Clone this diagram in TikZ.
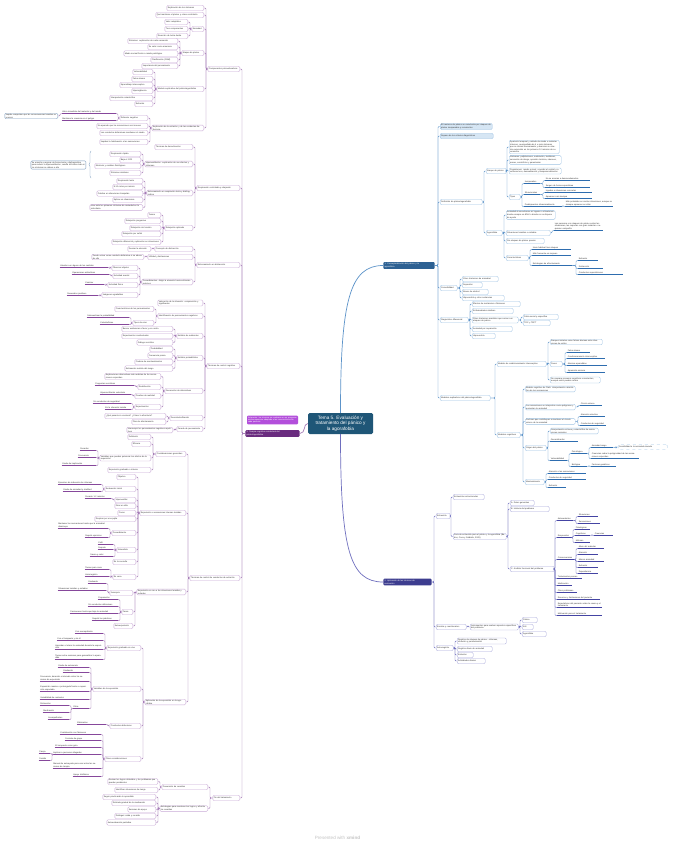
\documentclass[tikz,border=0pt]{standalone}
\usepackage{fontspec}
\setmainfont{Liberation Sans}
\usetikzlibrary{decorations.pathreplacing}
\definecolor{rootc}{HTML}{1F5677}
\definecolor{m3c}{HTML}{6A2C7F}
\definecolor{magc}{HTML}{B34FDB}
\definecolor{b1c}{HTML}{2D6193}
\definecolor{b2c}{HTML}{3D3D8F}
\definecolor{lnP}{HTML}{A57BB7}
\definecolor{bdP}{HTML}{C9A9D6}
\definecolor{ulP}{HTML}{86479B}
\definecolor{lnB}{HTML}{5C93C9}
\definecolor{bdB}{HTML}{9EC2E3}
\definecolor{ulB}{HTML}{2E6DAF}
\definecolor{fillB}{HTML}{D6E6F4}
\definecolor{lnI}{HTML}{6E6EBE}
\definecolor{bdI}{HTML}{A9A9DB}
\definecolor{ulI}{HTML}{4444A3}
\definecolor{noteb}{HTML}{7E9EC0}
\definecolor{txt}{HTML}{333333}
\definecolor{wmc}{HTML}{C4C4C4}
\colorlet{lnc}{lnP}\colorlet{bdc}{bdP}\colorlet{ulc}{ulP}
\newcommand\nfs{\fontsize{2.1}{2.6}\selectfont}
\tikzset{
 bx/.style={draw=bdc, fill=white, rounded corners=1.2pt, line width=0.35pt, inner xsep=1pt, inner ysep=0.75pt, minimum height=5.4pt, font=\nfs, text=txt, align=left},
 ul/.style={inner xsep=0.6pt, inner ysep=0.5pt, font=\nfs, text=txt, align=left},
 ln/.style={draw=lnc, line width=0.45pt, rounded corners=1pt},
 ull/.style={draw=ulc, line width=0.9pt},
 root/.style={fill=rootc, text=white, rounded corners=1.5pt, align=center, font=\fontsize{4.7}{5.6}\selectfont, minimum width=65pt, minimum height=21pt, inner sep=0.8pt},
 mthree/.style={fill=m3c, text=white, rounded corners=1pt, align=left, font=\nfs, text width=52pt, inner xsep=1.2pt, inner ysep=1pt},
 magnote/.style={fill=magc, text=white, rounded corners=1pt, align=left, font=\fontsize{2}{2.45}\selectfont, text width=49pt, inner sep=1pt},
 mainr/.style={text=white, rounded corners=1pt, align=left, font=\nfs, inner sep=1.2pt},
}
% left box child
\newcommand\BL[7][]{\pgfmathsetmacro\tw{#6-2}%
 \node[bx,anchor=east,text width=\tw pt,#1] (#3) at (#4,#5) {#7};%
 \coordinate (#3-o) at (#3.west);%
 \draw[ln] (#2-o) -| ([xshift=2pt]#3.east) -- (#3.east);}
% left underline child
\newcommand\UL[7][]{\pgfmathsetmacro\tw{#6-1.2}%
 \node[ul,anchor=south east,yshift=-1.6pt,text width=\tw pt,#1] (#3) at (#4,#5) {#7};%
 \coordinate (#3-o) at (#3.south west);%
 \draw[ull] (#3.south west) -- (#3.south east);%
 \draw[ln] (#2-o) -| ([xshift=2pt]#3.south east) -- (#3.south east);}
% right box child
\newcommand\BR[7][]{\pgfmathsetmacro\tw{#6-2}%
 \node[bx,anchor=west,text width=\tw pt,#1] (#3) at (#4,#5) {#7};%
 \coordinate (#3-o) at (#3.east);%
 \draw[ln] (#2-o) -| ([xshift=-2pt]#3.west) -- (#3.west);}
% right underline child
\newcommand\UR[7][]{\pgfmathsetmacro\tw{#6-1.2}%
 \node[ul,anchor=south west,yshift=-1.6pt,text width=\tw pt,#1] (#3) at (#4,#5) {#7};%
 \coordinate (#3-o) at (#3.south east);%
 \draw[ull] (#3.south west) -- (#3.south east);%
 \draw[ln] (#2-o) -| ([xshift=-2pt]#3.south west) -- (#3.south west);}

\begin{document}
\begin{tikzpicture}[x=1pt,y=-1pt]
\fill[white] (0,0) rectangle (675,848);
\useasboundingbox (0,0) rectangle (675,848);

% ---------- central and main nodes ----------
\node[root] (root) at (340.5,423.5) {Tema 5. Evaluación y\\tratamiento del pánico y\\la agorafobia};
\node[mthree] (M3) at (272.5,433.5) {3. Terapia cognitivo-conductual del\\pánico/agorafobia};
\coordinate (M3-o) at (M3.west);
\node[magnote] (MG) at (272.5,420) {Aclaración: las técnicas se combinan en un programa multicomponente adaptado a las características de cada paciente};
\node[mainr,fill=b1c,text width=49pt] (MR1) at (409,265.5) {1. Conceptualización del pánico y la\\agorafobia};
\coordinate (MR1-o) at (MR1.east);
\node[mainr,fill=b2c,text width=46pt] (MR2) at (407.5,582) {2. Aplicación de las técnicas de\\evaluación};
\coordinate (MR2-o) at (MR2.east);

\draw[draw=lnB,line width=0.7pt] (root.north) .. controls (340.5,300) and (350,265.5) .. (MR1.west);
\draw[draw=lnI,line width=0.7pt] (root.south) .. controls (340.5,550) and (350,582) .. (MR2.west);
\draw[draw=lnP,line width=0.7pt] (root.west) .. controls (303,423.5) and (306,433.5) .. (M3.east);

% ================= LEFT BRANCH =================
\colorlet{lnc}{lnP}\colorlet{bdc}{bdP}\colorlet{ulc}{ulP}
% --- A
\BL{M3}{A}{240}{69}{32}{Componentes psicoeducativos}
\BL{A}{A1}{204}{8}{37}{Explicación de los síntomas}
\BL{A}{A2}{204}{15}{48}{Qué mantiene el pánico y cómo controlarlo}
\BL{A}{A3}{204}{29}{12}{Ansiedad}
\BL{A3}{A31}{188}{22}{23}{Valor adaptativo}
\BL{A3}{A32}{188}{29}{23}{Tres componentes}
\BL{A3}{A33}{188}{36}{31}{Reacción de lucha-huida}
\BL{A}{A4}{204}{53}{22}{Ataque de pánico}
\BL{A4}{A41}{178}{41}{50}{Síntomas: explicación de cada sensación}
\BL{A4}{A42}{178}{47}{30}{Su valor como amenaza}
\BL{A4}{A43}{178}{53.5}{54}{Miedo normal frente a miedo patológico}
\BL{A4}{A44}{178}{60}{27}{Clasificación (DSM)}
\BL{A4}{A45}{178}{66}{36}{Importancia del pensamiento}
\BL{A}{A5}{204}{89}{47}{Modelo explicativo del pánico/agorafobia}
\BL{A5}{A51}{153}{72}{20}{Vulnerabilidad}
\BL{A5}{A52}{153}{79}{21}{Falsa alarma}
\BL{A5}{A53}{153}{85}{33}{Aprendizaje interoceptivo}
\BL{A5}{A54}{153}{91}{21}{Hipervigilancia}
\BL{A5}{A55}{153}{98}{43}{Interpretación catastrófica}
\BL{A5}{A56}{153}{104}{18}{Evitación}
\BL{A}{A6}{204}{128}{52}{Explicación de la evitación y de las conductas defensivas}
\BL{A6}{A61}{148}{118}{28}{Refuerzo negativo}
\UL{A61}{A611}{116}{112}{54}{Alivio inmediato del malestar y del miedo}
\BL[draw=noteb]{A611}{N1}{58}{116}{53}{Impide comprobar que las consecuencias temidas no ocurren}
\UL{A61}{A612}{116}{119}{54}{Mantiene la creencia en el peligro}
\BL{A6}{A62}{148}{126}{51}{No aprende que las sensaciones son inocuas}
\BL{A6}{A63}{148}{133}{48}{Las conductas defensivas mantienen el miedo}
\BL{A6}{A64}{148}{142}{48}{Impiden la habituación a las sensaciones}
% --- B
\BL{M3}{B}{240}{188}{43}{Respiración controlada y relajación}
\BL{B}{B1}{193}{147}{38}{Técnicas de desactivación}
\BL{B}{B2}{193}{164}{48}{Hiperventilación: explicación de sus efectos y síntomas}
\BL{B2}{B21}{141}{154}{31}{Respiración rápida}
\BL{B2}{B22}{141}{160}{21}{Baja el CO2}
\BL{B2}{B23}{141}{166}{46}{Alcalosis y cambios fisiológicos}
\BL{B2}{B24}{141}{173}{31}{Síntomas similares}
\node[bx,draw=noteb,anchor=east,text width=53pt] (N2) at (86,165) {Se enseña a respirar de forma lenta y diafragmática para reducir la hiperventilación; resulta útil sobre todo si los síntomas se deben a ella};
\draw[draw=noteb,line width=0.4pt,decorate,decoration={brace,amplitude=2pt}] (91,178) -- (91,151);
\BL{B}{B3}{193}{193}{46}{Entrenamiento en respiración lenta y diafragmática}
\BL{B3}{B31}{143}{181}{26}{Respiración lenta}
\BL{B3}{B32}{143}{187}{30}{8-12 ciclos por minuto}
\BL{B3}{B33}{143}{193.5}{46}{Práctica en situaciones tranquilas}
\BL{B3}{B34}{143}{200}{30}{Aplicar en situaciones}
\BL{B3}{B35}{143}{207.5}{53}{Usar ante los primeros síntomas de ansiedad en la vida diaria}
\BL{B}{B4}{193}{228}{28}{Relajación aplicada}
\BL{B4}{B41}{161}{215}{13}{Tensar}
\BL{B4}{B42}{161}{221}{36}{Relajación progresiva}
\BL{B4}{B43}{161}{228}{31}{Relajación sin tensión}
\BL{B4}{B44}{161}{234}{39}{Relajación por señal}
\BL{B4}{B45}{161}{242}{49}{Relajación diferencial y aplicación en situaciones}
% --- C
\BL{M3}{C}{240}{265}{43}{Entrenamiento en distracción}
\BL{C}{C1}{193}{249}{38}{Concepto de distracción}
\BL{C1}{C11}{151}{249}{23}{Desviar la atención}
\BL{C}{C2}{193}{257}{45}{Utilidad y limitaciones}
\BL{C2}{C21}{144}{257}{52}{Puede actuar como conducta defensiva si se abusa de ella}
\BL{C}{C3}{193}{282}{51}{Procedimientos: dirigir la atención hacia estímulos externos}
\BL{C3}{C31}{138}{268}{26}{Observar objetos}
\UL{C31}{C311}{108}{266}{48}{Atender con alguno de los sentidos}
\BL{C3}{C32}{138}{276}{25}{Actividad mental}
\UL{C32}{C321}{109}{273}{37}{Operaciones aritméticas}
\BL{C3}{C33}{138}{285}{30}{Actividad física}
\UL{C33}{C331}{104}{283}{19}{Caminar}
\BL{C3}{C34}{138}{295}{36}{Imágenes agradables}
\UL{C34}{C341}{98}{294}{31}{Recuerdos positivos}
% --- D
\BL{M3}{D}{240}{366}{33}{Técnicas de control cognitivo}
\BL{D}{D1}{203}{303}{45}{Valoración de la situación: comprensión y significados}
\BL{D}{D2}{203}{316}{45}{Identificación de pensamientos negativos}
\BL{D2}{D21}{154}{309}{39}{Características de los pensamientos}
\BL{D2}{D22}{154}{323}{21}{Tipos de error}
\UL{D22}{D221}{129}{316}{42}{Sobreestimar la probabilidad}
\UL{D22}{D222}{129}{323}{29}{Catastrofismo}
\BL{D}{D3}{203}{336}{26}{Análisis de evidencias}
\BL{D3}{D31}{173}{329}{51}{Buscar evidencias a favor y en contra}
\BL{D3}{D32}{173}{336}{51}{Experimentos conductuales}
\BL{D3}{D33}{173}{342.5}{36}{Diálogo socrático}
\BL{D}{D4}{203}{358}{26}{Análisis probabilístico}
\BL{D4}{D41}{173}{349}{23}{Probabilidad}
\BL{D4}{D42}{173}{355.5}{25}{Frecuencia previa}
\BL{D4}{D43}{173}{362}{38}{Cadena de acontecimientos}
\BL{D4}{D44}{173}{368.5}{48}{Estimación realista del riesgo}
\BL{D}{D5}{203}{391}{38}{Generación de alternativas}
\BL{D5}{D51}{161}{376.5}{56}{Explicaciones alternativas más realistas de las sensaciones corporales}
\BL{D5}{D52}{161}{387}{23}{Reatribución}
\UL{D52}{D521}{134}{384}{39}{Preguntas socráticas}
\BL{D5}{D53}{161}{396}{26}{Pruebas de realidad}
\UL{D53}{D531}{131}{393}{31}{Hiperventilación voluntaria}
\BL{D5}{D54}{161}{407}{26}{Experimentos}
\UL{D54}{D541}{131}{402}{38}{Sin conductas de seguridad}
\UL{D54}{D542}{131}{408}{26}{En la situación temida}
\BL{D}{D6}{203}{418}{33}{Descatastrofización}
\BL{D6}{D61}{166}{416}{61}{¿Qué pasaría si ocurriera? ¿Cómo lo afrontaría?}
\BL{D6}{D62}{166}{422}{34}{Plan de afrontamiento}
\BL{D}{D7}{203}{429}{26}{Parada de pensamiento}
\BL{D7}{D71}{173}{430}{46}{Interrumpir los pensamientos negativos repetitivos}
% --- E
\BL{M3}{E}{240}{578}{50}{Técnicas de control de conductas de evitación}
\BL{E}{E1}{186}{454}{30}{Consideraciones generales}
\BL{E1}{E11}{151}{437}{23}{Definición}
\BL{E1}{E12}{151}{444}{19}{Eficacia}
\BL{E1}{E13}{151}{458}{51}{Variables que pueden potenciar los efectos de la exposición}
\UL{E13}{E131}{96}{449}{16}{Duración}
\UL{E13}{E132}{96}{456}{18}{Frecuencia}
\UL{E13}{E133}{96}{464}{34}{Grado de implicación}
\BL{E1}{E14}{151}{470}{43}{Exposición graduada o intensa}
\BL{E}{E2}{186}{513}{46}{Exposición a sensaciones internas temidas}
\BL{E2}{E21}{136}{477}{19}{Objetivo}
\BL{E2}{E22}{136}{489}{31}{Evaluación inicial}
\UL{E22}{E221}{101}{483}{43}{Ejercicios de inducción de síntomas}
\UL{E22}{E222}{101}{490}{38}{Grado de ansiedad y similitud}
\BL{E2}{E23}{136}{500}{21}{Hiperventilar}
\UL{E23}{E231}{111}{497}{26}{Durante 1-2 minutos}
\BL{E2}{E24}{136}{506}{21}{Girar en silla}
\BL{E2}{E25}{136}{513}{18}{Correr}
\BL{E2}{E26}{136}{519}{41}{Respirar por una pajita}
\BL{E2}{E27}{136}{533}{24}{Procedimiento}
\UL{E27}{E271}{108}{527}{50}{Mantener las sensaciones hasta que la ansiedad disminuya}
\UL{E27}{E272}{108}{536}{23}{Repetir ejercicios}
\BL{E2}{E28}{136}{550}{19}{Naturalista}
\UL{E28}{E281}{113}{543}{15}{Café}
\UL{E28}{E282}{113}{548}{15}{Deporte}
\UL{E28}{E283}{113}{555}{23}{Sauna y calor}
\BL{E2}{E29}{136}{562}{23}{En la consulta}
\BL{E2}{E2A}{136}{577}{23}{En casa}
\UL{E2A}{E2A1}{109}{568}{24}{Tareas para casa}
\UL{E2A}{E2A2}{109}{575}{24}{Autorregistro}
\BL{E}{E3}{186}{592}{49}{Exposición en vivo a las situaciones temidas y evitadas}
\BL{E3}{E31}{133}{593}{23}{Jerarquía}
\UL{E31}{E311}{106}{582}{18}{Graduada}
\UL{E31}{E312}{106}{589}{48}{Situaciones temidas y evitadas}
\BL{E3}{E32}{133}{612}{11}{Fases}
\UL{E32}{E321}{118}{598}{20}{Preparación}
\UL{E32}{E322}{118}{605}{30}{Sin conductas defensivas}
\UL{E32}{E323}{118}{612}{48}{Permanecer hasta que baje la ansiedad}
\UL{E32}{E324}{118}{619}{26}{Repetir las prácticas}
\BL{E3}{E33}{133}{626}{19}{Autoexposición}
\BL{E}{E4}{186}{702}{41}{Aplicación de la exposición en la agorafobia}
\BL{E4}{E41}{141}{648}{34}{Exposición graduada en vivo}
\UL{E41}{E411}{103}{632}{28}{Con acompañante}
\UL{E41}{E412}{103}{639}{46}{Con el terapeuta y sin él}
\UL{E41}{E413}{103}{648}{48}{Aprender a tolerar la ansiedad durante la exposición}
\UL{E41}{E414}{103}{658}{48}{Tareas entre sesiones para generalizar lo aprendido}
\BL{E4}{E42}{141}{689}{48}{Variables de la exposición}
\UL{E42}{E421}{89}{666}{31}{Grado de autonomía}
\UL{E42}{E422}{89}{671}{26}{Gradación}
\UL{E42}{E423}{89}{680}{49}{Frecuencia, duración e intervalo entre las sesiones de exposición}
\UL{E42}{E424}{89}{690}{49}{Exposición masiva o prolongada frente a exposición espaciada}
\UL{E42}{E425}{89}{698}{49}{Variabilidad de contextos}
\UL{E42}{E426}{89}{707}{16}{Otras}
\UL{E426}{E4261}{69}{704}{29}{Distracción}
\UL{E426}{E4262}{69}{711}{26}{Medicación}
\UL{E426}{E4263}{69}{718}{21}{Acompañantes}
\BL{E4}{E43}{141}{726}{31}{Conductas defensivas}
\UL{E43}{E431}{106}{723}{29}{Eliminarlas}
\BL{E4}{E44}{141}{759}{36}{Otras consideraciones}
\UL{E44}{E441}{101}{733}{41}{Combinación con fármacos}
\UL{E44}{E442}{101}{739}{36}{Formato de grupo}
\UL{E44}{E443}{101}{746}{46}{El terapeuta como guía}
\UL{E44}{E444}{101}{753}{48}{Implicar a personas allegadas}
\UL{E444}{E4441}{50}{752}{11}{Pareja}
\UL{E444}{E4442}{50}{759}{11}{Familia}
\UL{E44}{E445}{101}{767}{48}{Manual de autoayuda para usar entre las sesiones de terapia}
\UL{E44}{E446}{101}{775}{28}{Apoyo telefónico}
% --- F
\BL{M3}{F}{240}{798}{27}{Fin del tratamiento}
\BL{F}{F1}{208}{787}{46}{Prevención de recaídas}
\BL{F1}{F11}{158}{781.5}{50}{Revisar los logros obtenidos y los problemas que quedan pendientes}
\BL{F1}{F12}{158}{790}{43}{Identificar situaciones de riesgo}
\BL{F}{F2}{208}{808.5}{48}{Estrategias para mantener los logros y afrontar las recaídas}
\BL{F2}{F21}{156}{797}{53}{Seguir practicando lo aprendido}
\BL{F2}{F22}{156}{803}{44}{Retirada gradual de la medicación}
\BL{F2}{F23}{156}{809.5}{28}{Sesiones de apoyo}
\BL{F2}{F24}{156}{816}{41}{Distinguir caída y recaída}
\BL{F2}{F25}{156}{822.5}{49}{Autoevaluación periódica}

% ================= RIGHT BRANCH 1 =================
\colorlet{lnc}{lnB}\colorlet{bdc}{bdB}\colorlet{ulc}{ulB}
\BR[fill=fillB]{MR1}{R1}{440}{126.5}{52}{El trastorno de pánico se caracteriza por ataques de pánico inesperados y recurrentes}
\BR[fill=fillB]{MR1}{R2}{440}{136}{53}{Repaso de los criterios diagnósticos}
\BR{MR1}{R3}{440}{202}{42}{Definición de pánico/agorafobia}
\BR{R3}{R31}{486}{171}{20}{Ataque de pánico}
\BR{R31}{R311}{509}{147}{50}{Aparición temporal y aislada de miedo o malestar intensos, acompañada de 4 o más síntomas que se inician bruscamente y alcanzan su máxima expresión en los primeros 10 minutos de su comienzo}
\BR{R31}{R312}{509}{160}{52}{Síntomas: palpitaciones, sudoración, temblores, sensación de ahogo, opresión torácica, náuseas, mareo, escalofríos y parestesias}
\BR{R31}{R313}{509}{171}{52}{Cogniciones: miedo a morir, a perder el control o a volverse loco; desrealización y despersonalización}
\BR{R31}{R314}{509}{197}{11}{Tipos}
\UR{R314}{R3141}{524}{182}{16}{Inesperados}
\UR{R3141}{R31411}{545}{179}{45}{No se asocian a desencadenantes}
\UR{R3141}{R31412}{545}{186}{45}{Surgen de forma espontánea}
\UR{R314}{R3142}{524}{193}{16}{Situacionales}
\UR{R3142}{R31421}{545}{191}{47}{Ligados a situaciones concretas}
\UR{R3142}{R31422}{545}{197}{47}{Aparecen casi siempre}
\UR{R314}{R3143}{524}{205}{38}{Predispuestos situacionalmente}
\UR{R3143}{R31431}{565}{205}{48}{Más probables en ciertas situaciones, aunque no siempre aparecen en ellas}
\BR{R3}{R32}{486}{233}{16}{Agorafobia}
\BR{R32}{R321}{506}{215}{49}{Ansiedad al encontrarse en lugares o situaciones donde escapar es difícil o donde no se dispone de ayuda}
\BR{R32}{R322}{506}{233}{44}{Situaciones temidas o evitadas}
\UR{R322}{R3221}{554}{229}{49}{Las personas con ataques de pánico evitan las situaciones, las soportan con gran malestar o requieren compañía}
\BR{R32}{R323}{506}{241}{38}{Sin ataques de pánico previos}
\BR{R32}{R324}{506}{258}{22}{Características}
\UR{R324}{R3241}{532}{248}{39}{Inicio habitual tras ataques}
\UR{R324}{R3242}{532}{254}{39}{Más frecuente en mujeres}
\UR{R324}{R3243}{532}{264}{40}{Estrategias de afrontamiento}
\UR{R3243}{R32431}{578}{259}{20}{Evitación}
\UR{R3243}{R32432}{578}{267}{25}{Distracción}
\UR{R3243}{R32433}{578}{273}{45}{Conductas supersticiosas}
\BR{MR1}{R4}{440}{288}{17}{Comorbilidad}
\BR{R4}{R41}{462}{279}{36}{Otros trastornos de ansiedad}
\BR{R4}{R42}{462}{285}{20}{Depresión}
\BR{R4}{R43}{462}{292}{26}{Abuso de alcohol}
\BR{R4}{R44}{462}{298}{42}{Hipocondría y otras sustancias}
\BR{MR1}{R5}{440}{320}{28}{Diagnóstico diferencial}
\BR{R5}{R51}{472}{304}{48}{Efectos de sustancias o fármacos}
\BR{R5}{R52}{472}{311}{41}{Enfermedades médicas}
\BR{R5}{R53}{472}{320}{46}{Otros trastornos mentales que cursan con ataques de pánico}
\BR{R53}{R531}{523}{317}{35}{Fobia social y específica}
\BR{R53}{R532}{523}{323}{27}{TOC y TEPT}
\BR{R5}{R54}{472}{329}{40}{Ansiedad por separación}
\BR{R5}{R55}{472}{336}{23}{Hipocondría}
\BR{MR1}{R6}{440}{398}{50}{Modelos explicativos del pánico/agorafobia}
\BR{R6}{R61}{497}{364}{49}{Modelo de condicionamiento interoceptivo}
\BR{R61}{R611}{550}{342}{52}{Ataques iniciales como falsas alarmas ante situaciones de estrés}
\BR{R61}{R612}{550}{364}{12}{Fases}
\UR{R612}{R6121}{567}{351}{23}{Falsa alarma}
\UR{R612}{R6122}{567}{357}{38}{Condicionamiento interoceptivo}
\UR{R612}{R6123}{567}{364}{40}{Alarmas aprendidas}
\UR{R612}{R6124}{567}{371}{38}{Aprensión ansiosa}
\BR{R61}{R613}{550}{380}{50}{No requiere procesos cognitivos conscientes, aunque estos pueden actuar}
\BR{R6}{R62}{497}{435}{23}{Modelos cognitivos}
\BR{R62}{R621}{525}{389}{50}{Modelo cognitivo de Clark: interpretación catastrófica de las sensaciones}
\BR{R62}{R622}{525}{407}{50}{Las sensaciones se interpretan como peligrosas y aumentan la ansiedad}
\UR{R622}{R6221}{580}{404}{22}{Círculo vicioso}
\BR{R62}{R623}{525}{421.5}{50}{Factores que contribuyen a mantener el círculo vicioso de la ansiedad}
\UR{R623}{R6231}{580}{415}{25}{Atención selectiva}
\UR{R623}{R6232}{580}{424}{26}{Conductas de seguridad}
\BR{R62}{R624}{525}{448}{21}{Origen del pánico}
\BR{R624}{R6241}{550}{431}{48}{Interpretación errónea y catastrófica de sensaciones normales}
\UR{R624}{R6242}{550}{439.5}{28}{Generalización}
\UR{R624}{R6243}{550}{459}{17}{Vulnerabilidad}
\UR{R6243}{R62431}{571}{452}{16}{Psicológica}
\UR{R62431}{R624311}{591}{446}{22}{Ansiedad rasgo}
\BR[dashed]{R624311}{R6243111}{618}{447}{49}{Sensibilidad a la ansiedad elevada}
\UR{R62431}{R624312}{591}{457}{48}{Creencias sobre la peligrosidad de las sensaciones corporales}
\UR{R6243}{R62432}{571}{465}{16}{Biológica}
\UR{R62432}{R624321}{591}{465}{25}{Factores genéticos}
\BR{R62}{R625}{525}{482}{19}{Mantenimiento}
\UR{R625}{R6251}{548}{472}{38}{Atención a las sensaciones}
\UR{R625}{R6252}{548}{478}{38}{Conductas de seguridad}
\UR{R625}{R6253}{548}{486}{18}{Evitación}

% ================= RIGHT BRANCH 2 =================
\colorlet{lnc}{lnI}\colorlet{bdc}{bdI}\colorlet{ulc}{ulI}
\BR{MR2}{S1}{436}{516}{14}{Entrevista}
\BR{S1}{S11}{453}{497}{31}{Entrevistas estructuradas}
\BR{S1}{S12}{453}{536.5}{53}{Guía de entrevista para el pánico y la agorafobia (Bados, Coca y Saldaña, 2009)}
\BR{S12}{S121}{510}{503}{24}{A. Datos generales}
\BR{S12}{S122}{510}{509}{39}{B. Historia del problema}
\BR{S12}{S123}{510}{569}{44}{C. Análisis funcional del problema}
\UR{S123}{S1231}{557}{519}{16}{Antecedentes}
\UR{S1231}{S12311}{578}{515}{20}{Situaciones}
\UR{S1231}{S12312}{578}{522}{22}{Sensaciones}
\UR{S123}{S1232}{557}{536}{15}{Respuestas}
\UR{S1232}{S12321}{575}{528}{15}{Fisiológicas}
\UR{S1232}{S12322}{575}{534}{15}{Cognitivas}
\UR{S12322}{S123221}{594}{534}{19}{Creencias}
\UR{S1232}{S12323}{575}{541}{15}{Motoras}
\UR{S123}{S1233}{557}{558}{17}{Consecuencias}
\UR{S1233}{S12331}{578}{547}{26}{Alivio del malestar}
\UR{S1233}{S12332}{578}{553}{20}{Atención}
\UR{S1233}{S12333}{578}{560}{26}{Menos ansiedad}
\UR{S1233}{S12334}{578}{566}{20}{Evitación}
\UR{S1233}{S12335}{578}{572}{20}{Dependencia}
\UR{S123}{S1234}{557}{577}{25}{Tratamientos previos}
\UR{S123}{S1235}{557}{584}{15}{Medicación}
\UR{S123}{S1236}{557}{591}{20}{Otros problemas}
\UR{S123}{S1237}{557}{598}{43}{Recursos y limitaciones del paciente}
\UR{S123}{S1238}{557}{606}{45}{Expectativas del paciente sobre la causa y el tratamiento}
\UR{S123}{S1239}{557}{614}{45}{Motivación para el tratamiento}
\BR{MR2}{S2}{436}{627}{30}{Escalas y cuestionarios}
\BR{S2}{S21}{470}{627}{48}{Instrumentos para evaluar aspectos específicos del problema}
\BR{S21}{S211}{522}{620}{15}{Pánico}
\BR{S21}{S212}{522}{627}{11}{ASI}
\BR{S21}{S213}{522}{634}{24}{Agorafobia}
\BR{MR2}{S3}{436}{648}{17}{Autorregistro}
\BR{S3}{S31}{457}{641}{49}{Registro de ataques de pánico: síntomas, situación y pensamientos}
\BR{S3}{S32}{457}{649}{35}{Registro diario de ansiedad}
\BR{S3}{S33}{457}{655}{16}{Evitación}
\BR{S3}{S34}{457}{661}{28}{Actividades diarias}

% watermark
\node[text=wmc,font=\fontsize{4.6}{5.5}\selectfont] (WM) at (337.5,838) {Presented with \textbf{xmind}};
\end{tikzpicture}
\end{document}
